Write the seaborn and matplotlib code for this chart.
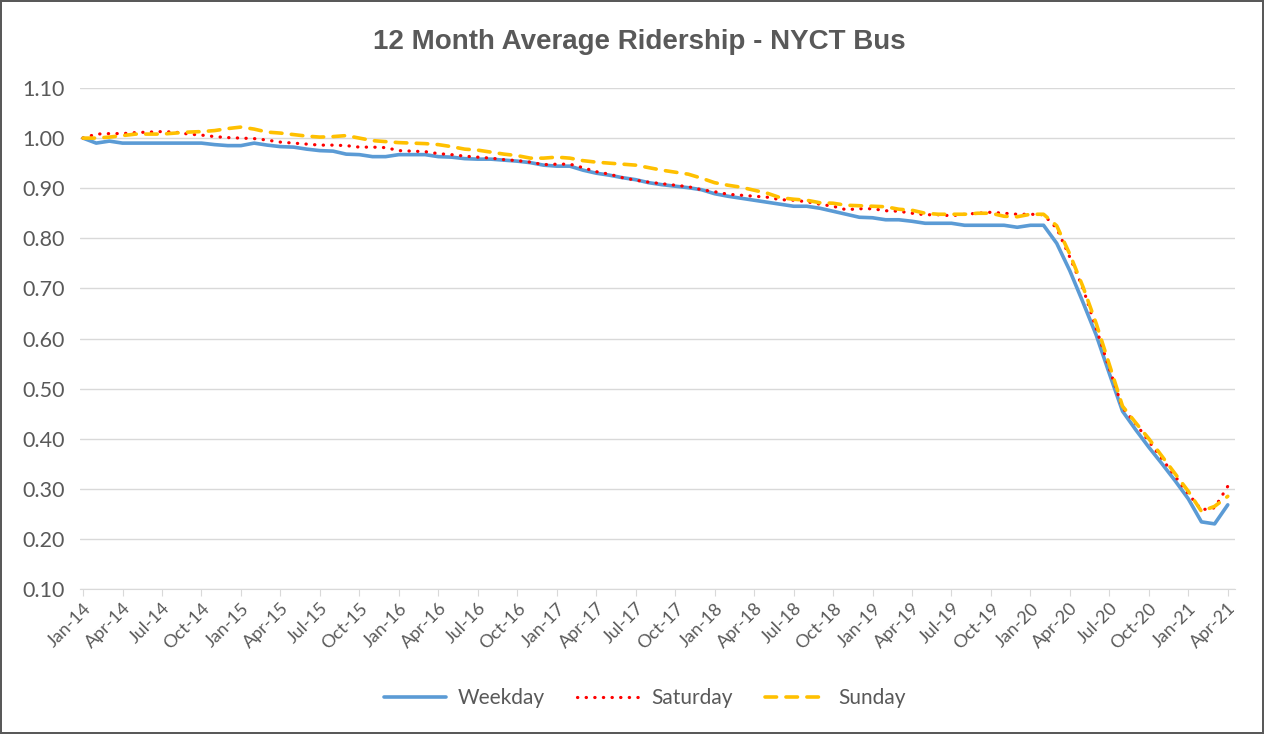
import numpy as np
import pandas as pd
import matplotlib
matplotlib.use("Agg")
import matplotlib.pyplot as plt
import seaborn as sns

months = pd.date_range("2014-01-01", "2021-04-01", freq="MS")
month_labels = [d.strftime("%b-%y") for d in months]

weekday = [1.000, 0.990, 0.994, 0.990, 0.990, 0.990, 0.990, 0.990, 0.990, 0.990,
           0.987, 0.985, 0.985, 0.990, 0.986, 0.983, 0.982, 0.978, 0.975, 0.974,
           0.968, 0.967, 0.963, 0.963, 0.967, 0.967, 0.967, 0.963, 0.962, 0.959,
           0.958, 0.958, 0.956, 0.954, 0.951, 0.946, 0.944, 0.944, 0.936, 0.930,
           0.926, 0.921, 0.917, 0.911, 0.907, 0.904, 0.901, 0.897, 0.889, 0.884,
           0.880, 0.876, 0.872, 0.868, 0.864, 0.864, 0.860, 0.854, 0.848, 0.842,
           0.841, 0.837, 0.837, 0.834, 0.830, 0.830, 0.830, 0.826, 0.826, 0.826,
           0.826, 0.822, 0.826, 0.826, 0.790, 0.735, 0.672, 0.607, 0.530, 0.455,
           0.418, 0.383, 0.350, 0.316, 0.280, 0.234, 0.230, 0.268]

saturday = [1.000, 1.008, 1.009, 1.009, 1.011, 1.012, 1.013, 1.012, 1.008, 1.006,
            1.003, 1.001, 1.000, 0.999, 0.996, 0.992, 0.990, 0.988, 0.986, 0.986,
            0.985, 0.982, 0.982, 0.981, 0.975, 0.974, 0.973, 0.969, 0.967, 0.964,
            0.962, 0.960, 0.957, 0.955, 0.952, 0.947, 0.948, 0.948, 0.941, 0.933,
            0.928, 0.921, 0.916, 0.912, 0.909, 0.906, 0.903, 0.897, 0.893, 0.888,
            0.886, 0.884, 0.882, 0.877, 0.876, 0.873, 0.868, 0.864, 0.857, 0.859,
            0.859, 0.855, 0.854, 0.850, 0.847, 0.847, 0.845, 0.848, 0.850, 0.852,
            0.850, 0.848, 0.848, 0.847, 0.820, 0.762, 0.700, 0.620, 0.540, 0.462,
            0.430, 0.395, 0.360, 0.325, 0.290, 0.258, 0.262, 0.305]

sunday = [1.000, 1.000, 1.002, 1.005, 1.008, 1.008, 1.008, 1.010, 1.012, 1.013,
          1.015, 1.019, 1.022, 1.018, 1.012, 1.010, 1.007, 1.004, 1.002, 1.003,
          1.005, 1.000, 0.995, 0.993, 0.991, 0.990, 0.989, 0.987, 0.983, 0.978,
          0.976, 0.972, 0.968, 0.965, 0.960, 0.960, 0.962, 0.960, 0.955, 0.952,
          0.950, 0.948, 0.946, 0.941, 0.936, 0.932, 0.928, 0.920, 0.911, 0.906,
          0.902, 0.896, 0.890, 0.881, 0.878, 0.876, 0.871, 0.870, 0.866, 0.865,
          0.864, 0.863, 0.858, 0.856, 0.850, 0.848, 0.848, 0.848, 0.850, 0.850,
          0.844, 0.843, 0.848, 0.848, 0.825, 0.768, 0.703, 0.630, 0.548, 0.465,
          0.432, 0.400, 0.365, 0.330, 0.295, 0.255, 0.265, 0.285]

y_ticks = [0.10, 0.20, 0.30, 0.40, 0.50, 0.60, 0.70, 0.80, 0.90, 1.00, 1.10]

sns.set_style("white")
plt.rcParams['font.family'] = ['Lato', 'DejaVu Sans']

fig = plt.figure(figsize=(12.64, 7.34), dpi=100)
ax = fig.add_axes([80 / 1264, 1 - 589 / 734, (1235 - 80) / 1264, (589 - 88) / 734])

x = np.arange(len(months))
text_col = "#595959"

sns.lineplot(x=x, y=weekday, ax=ax, color="#5b9bd5", lw=2.6, label="Weekday",
             solid_joinstyle="round")
sns.lineplot(x=x, y=saturday, ax=ax, color="#ff0000", lw=2.3, label="Saturday",
             linestyle=(0, (0.1, 2.6)), dash_capstyle="round")
sns.lineplot(x=x, y=sunday, ax=ax, color="#ffc000", lw=2.6, label="Sunday",
             linestyle=(0, (3.2, 2.6)), dash_capstyle="round")

ax.set_xlim(-0.23, 87.55)
ax.set_ylim(0.1, 1.1)
ax.set_yticks(y_ticks)
ax.set_yticklabels([f"{v:.2f}" for v in y_ticks], fontsize=15.5, color=text_col)
tick_idx = list(range(0, len(months), 3))
ax.set_xticks(tick_idx)
ax.set_xticklabels([month_labels[i] for i in tick_idx], rotation=45, ha="right",
                   rotation_mode="anchor", fontsize=13, color=text_col)
ax.grid(axis="y", color="#d9d9d9", lw=1)
ax.set_axisbelow(True)
for s in ["top", "right", "left"]:
    ax.spines[s].set_visible(False)
ax.spines["bottom"].set_color("#d9d9d9")
ax.tick_params(axis="x", length=5, color="#d9d9d9", pad=3, bottom=True)
ax.tick_params(axis="y", length=0, pad=11)

fig.text(639 / 1264, 1 - 42 / 734, "12 Month Average Ridership - NYCT Bus",
         ha="center", va="center", fontsize=20, fontweight="bold",
         family=["Liberation Sans", "DejaVu Sans"], color=text_col)

leg = ax.legend(loc="center", bbox_to_anchor=(0.489, (589 - 698) / 501), ncol=3,
                frameon=False, fontsize=15, handlelength=3.0, columnspacing=1.55,
                handletextpad=0.55)
for t in leg.get_texts():
    t.set_color(text_col)

fig.patch.set_edgecolor("#595959")
fig.patch.set_linewidth(1.5)
fig.savefig("out.png", dpi=100, edgecolor=fig.get_edgecolor())
